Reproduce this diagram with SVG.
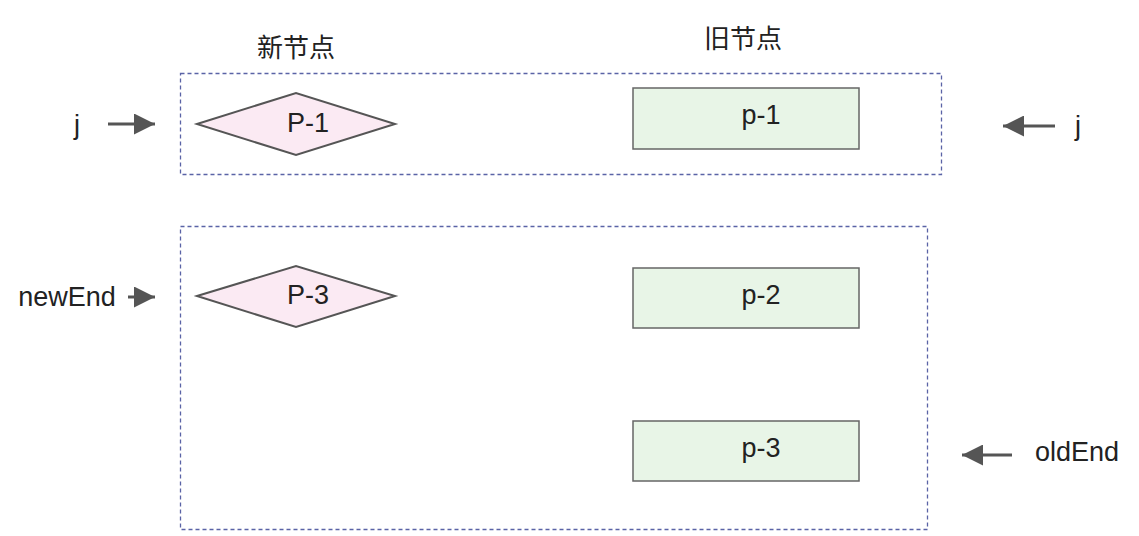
<svg xmlns="http://www.w3.org/2000/svg" width="1139" height="536" viewBox="0 0 1139 536">
<style>
.grp{fill:none;stroke:#5a63a6;stroke-width:1.3;stroke-dasharray:4 3}
.dia{fill:#fbeaf3;stroke:#555;stroke-width:2}
.box{fill:#e8f5e7;stroke:#666;stroke-width:1.5}
.t{font-family:"Liberation Sans","Noto Sans",sans-serif;font-size:27px;fill:#222;text-anchor:middle;dominant-baseline:central}
.h{font-family:"Noto Sans CJK SC","Noto Sans",sans-serif;font-size:26px;fill:#222;text-anchor:middle;dominant-baseline:central}
.c{stroke:#555;stroke-width:3;fill:none}
</style>
<defs>
<marker id="ah" viewBox="0 0 10 10" refX="10" refY="5" markerWidth="7" markerHeight="7" markerUnits="strokeWidth" orient="auto">
<path d="M0,0 L10,5 L0,10 z" fill="#555"/>
</marker>
</defs>
<rect id="group-top" class="grp" x="180.5" y="73.5" width="761" height="101"/>
<rect id="group-bottom" class="grp" x="180.5" y="226.5" width="747" height="303"/>
<text class="h" x="296" y="45">新节点</text>
<text class="h" x="743" y="36">旧节点</text>
<g id="P-1"><polygon class="dia" points="197,124 296,93 395,124 296,155"/><text class="t" x="308" y="123">P-1</text></g>
<g id="P-3"><polygon class="dia" points="197,296 296,266 395,296 296,327"/><text class="t" x="308" y="295">P-3</text></g>
<g id="p-1"><rect class="box" x="633" y="88" width="226" height="61"/><text class="t" x="761" y="115">p-1</text></g>
<g id="p-2"><rect class="box" x="633" y="268" width="226" height="60"/><text class="t" x="761" y="295">p-2</text></g>
<g id="p-3"><rect class="box" x="633" y="421" width="226" height="60"/><text class="t" x="761" y="448">p-3</text></g>
<g id="pointers">
<text class="t" x="77" y="125">j</text>
<text class="t" x="1078" y="126">j</text>
<text class="t" x="67" y="297">newEnd</text>
<text class="t" x="1077" y="452">oldEnd</text>
</g>
<g id="connectors">
<line class="c" x1="108" y1="124" x2="155" y2="124" marker-end="url(#ah)"/>
<line class="c" x1="1055" y1="126" x2="1003" y2="126" marker-end="url(#ah)"/>
<line class="c" x1="128" y1="297" x2="155" y2="297" marker-end="url(#ah)"/>
<line class="c" x1="1012" y1="455" x2="962" y2="455" marker-end="url(#ah)"/>
</g>
</svg>
